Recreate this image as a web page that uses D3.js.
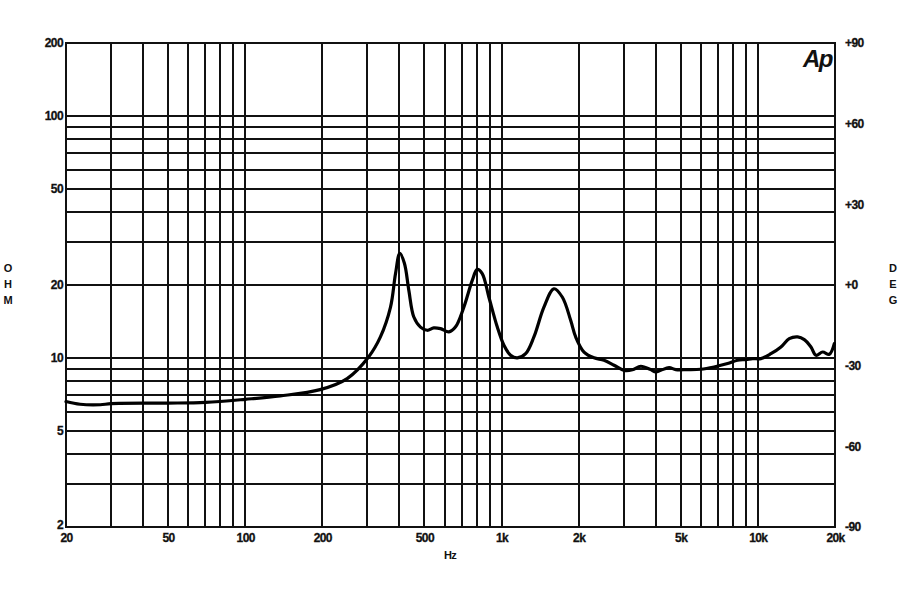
<!DOCTYPE html>
<html>
<head>
<meta charset="utf-8">
<script src="https://cdn.jsdelivr.net/npm/d3@7"></script>
<style>
  html, body { margin: 0; padding: 0; background: #fff; }
  svg { display: block; }
  text { font-family: "Liberation Sans", Arial, sans-serif; font-weight: bold; fill: #111; }
</style>
</head>
<body>
<svg id="chart" width="900" height="600"></svg>
<script>
// ---- Data ----
const freqHz = [20, 22.7, 27.2, 30, 50, 70, 100, 137, 196, 250, 303, 337, 369, 386, 401, 418, 435, 455, 483, 513, 544, 578, 623, 661, 713, 769, 804, 841, 893, 963, 1022, 1085, 1152, 1242, 1338, 1464, 1602, 1728, 1861, 1947, 2098, 2295, 2511, 2748, 3006, 3242, 3494, 3822, 3996, 4180, 4506, 4786, 5316, 5992, 6754, 7620, 8338, 8984, 9538, 10280, 11246, 12306, 13260, 14302, 15178, 16118, 16860, 17908, 19000, 19876];
const impedanceOhm = [6.6, 6.43, 6.4, 6.47, 6.5, 6.55, 6.74, 6.96, 7.39, 8.21, 10.08, 12.2, 16.2, 22.3, 27.0, 24.6, 19.0, 14.75, 13.4, 13.0, 13.3, 13.2, 12.8, 13.4, 16.2, 20.9, 23.2, 22.3, 17.8, 13.4, 11.27, 10.25, 9.99, 10.4, 12.2, 16.2, 19.3, 17.8, 14.3, 12.2, 10.57, 10.0, 9.77, 9.32, 8.88, 8.93, 9.23, 8.94, 8.74, 8.88, 9.11, 8.94, 8.94, 8.97, 9.17, 9.47, 9.77, 9.84, 9.93, 9.93, 10.4, 11.09, 12.0, 12.2, 11.9, 11.09, 10.25, 10.57, 10.34, 11.45];

const xTickValues = [20, 50, 100, 200, 500, 1000, 2000, 5000, 10000, 20000];
const xTickLabels = ["20", "50", "100", "200", "500", "1k", "2k", "5k", "10k", "20k"];
const yTickValues = [200, 100, 50, 20, 10, 5, 2];
const yTickLabels = ["200", "100", "50", "20", "10", "5", "2"];
const phaseTickValues = [90, 60, 30, 0, -30, -60, -90];
const phaseTickLabels = ["+90", "+60", "+30", "+0", "-30", "-60", "-90"];
const xGridValues = [30, 40, 50, 60, 70, 80, 90, 100, 200, 300, 400, 500, 600, 700, 800, 900, 1000, 2000, 3000, 4000, 5000, 6000, 7000, 8000, 9000, 10000];
const yGridValues = [3, 4, 5, 6, 7, 8, 9, 10, 20, 30, 40, 50, 60, 70, 80, 90, 100];

// ---- Layout ----
const mLeft = 66, mRight = 835, mTop = 43, mBottom = 527;
const svg = d3.select("#chart");

const x = d3.scaleLog().domain([20, 20000]).range([mLeft, mRight]);
const y = d3.scaleLog().domain([2, 200]).range([mBottom, mTop]);
const yPhase = d3.scaleLinear().domain([-90, 90]).range([mBottom, mTop]);

// Grid
const grid = svg.append("g").attr("stroke", "#111").attr("stroke-width", 2).attr("shape-rendering", "crispEdges");
grid.selectAll("line.v").data(xGridValues).join("line")
  .attr("x1", d => Math.round(x(d))).attr("x2", d => Math.round(x(d)))
  .attr("y1", mTop).attr("y2", mBottom);
grid.selectAll("line.h").data(yGridValues).join("line")
  .attr("y1", d => Math.round(y(d))).attr("y2", d => Math.round(y(d)))
  .attr("x1", mLeft).attr("x2", mRight);
grid.append("rect").attr("x", mLeft).attr("y", mTop)
  .attr("width", mRight - mLeft).attr("height", mBottom - mTop)
  .attr("fill", "none");

function styleLabels(sel) {
  sel.attr("font-size", 12).attr("font-family", "Liberation Sans, Arial, sans-serif")
    .attr("font-weight", "bold").attr("fill", "#111").attr("letter-spacing", -0.6)
    .attr("stroke", "#111").attr("stroke-width", 0.3);
}

// Axes (labels only)
const xAxis = d3.axisBottom(x).tickValues(xTickValues)
  .tickFormat((d, i) => xTickLabels[i]).tickSize(0).tickPadding(6);
svg.append("g").attr("transform", `translate(0,${mBottom})`).call(xAxis)
  .call(g => g.select(".domain").remove())
  .selectAll("text").call(styleLabels);

const yAxis = d3.axisLeft(y).tickValues(yTickValues)
  .tickFormat((d, i) => yTickLabels[i]).tickSize(0).tickPadding(3);
svg.append("g").attr("transform", `translate(${mLeft},0)`).call(yAxis)
  .call(g => g.select(".domain").remove())
  .call(g => g.selectAll(".tick").filter(d => d === 2).select("text").attr("dy", "0.1em"))
  .selectAll("text").call(styleLabels);

const pAxis = d3.axisRight(yPhase).tickValues(phaseTickValues)
  .tickFormat((d, i) => phaseTickLabels[i]).tickSize(0).tickPadding(10);
svg.append("g").attr("transform", `translate(${mRight},0)`).call(pAxis)
  .call(g => g.select(".domain").remove())
  .selectAll("text").call(styleLabels);

// Axis titles
const ohm = ["O", "H", "M"], deg = ["D", "E", "G"];
svg.append("g").selectAll("text").data(ohm).join("text")
  .attr("x", 8).attr("y", (d, i) => 272 + i * 16).attr("text-anchor", "middle")
  .attr("font-size", 11).text(d => d);
svg.append("g").selectAll("text").data(deg).join("text")
  .attr("x", 893).attr("y", (d, i) => 272 + i * 16).attr("text-anchor", "middle")
  .attr("font-size", 11).text(d => d);
svg.append("text").attr("x", 450).attr("y", 559).attr("text-anchor", "middle")
  .attr("font-size", 11).attr("letter-spacing", -0.6).text("Hz");

// Ap logo
svg.append("text").attr("x", 832).attr("y", 67).attr("text-anchor", "end")
  .attr("font-size", 24).attr("font-style", "italic").attr("letter-spacing", -1.5).text("Ap");

// Curve
const line = d3.line()
  .x((d, i) => x(freqHz[i]))
  .y(d => y(d))
  .curve(d3.curveCatmullRom.alpha(0.5));
svg.append("path").datum(impedanceOhm)
  .attr("d", line).attr("fill", "none").attr("stroke", "#000")
  .attr("stroke-width", 3.2).attr("stroke-linejoin", "round").attr("stroke-linecap", "round");
</script>
</body>
</html>
